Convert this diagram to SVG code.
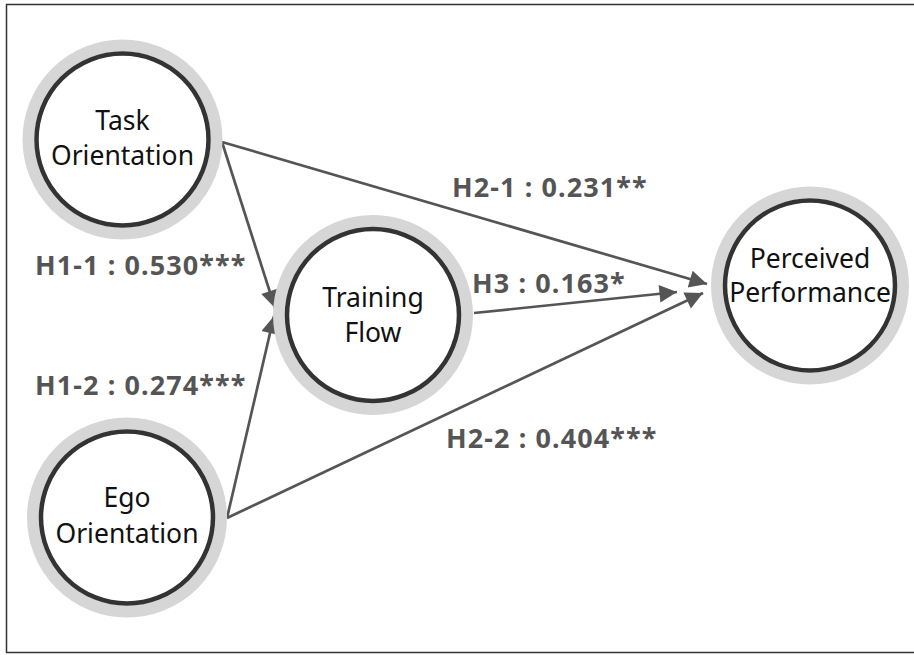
<svg xmlns="http://www.w3.org/2000/svg" width="914" height="655" viewBox="0 0 914 655">
<defs>
<style>
.ring{fill:none;stroke:#d6d6d6;stroke-width:12}
.core{fill:#fff;stroke:#333;stroke-width:4.5}
.nt{font-family:"Noto Sans","Open Sans",sans-serif;font-size:26.5px;fill:#111;text-anchor:middle}
.lb{font-family:"Noto Sans","Open Sans",sans-serif;font-size:27px;letter-spacing:1.1px;font-weight:bold;fill:#555}
.cn{stroke:#555;stroke-width:2.7;fill:none;marker-end:url(#ah)}
</style>
<marker id="ah" viewBox="0 0 10 10" refX="10" refY="5" markerWidth="8" markerHeight="6.5" markerUnits="strokeWidth" orient="auto">
<path d="M0,0 L10,5 L0,10 z" fill="#555"/>
</marker>
</defs>
<rect width="914" height="655" fill="#fff"/>
<path d="M914,4.5 H6.5 V652.5 H914" fill="none" stroke="#333" stroke-width="1.5"/>
<g id="connectors">
<line class="cn" x1="222" y1="142" x2="275" y2="308"/>
<line class="cn" x1="227" y1="518" x2="274" y2="316"/>
<line class="cn" x1="222" y1="142" x2="707" y2="284"/>
<line class="cn" x1="227" y1="518" x2="703" y2="293"/>
<line class="cn" x1="474" y1="313" x2="677" y2="292"/>
</g>
<g id="task">
<circle class="ring" cx="122.5" cy="139.5" r="94"/>
<circle class="core" cx="122.5" cy="139.5" r="86"/>
<text class="nt" x="122.5" y="130">Task</text>
<text class="nt" x="122.5" y="165">Orientation</text>
</g>
<g id="ego">
<circle class="ring" cx="127" cy="517.5" r="94"/>
<circle class="core" cx="127" cy="517.5" r="86"/>
<text class="nt" x="127" y="507">Ego</text>
<text class="nt" x="127" y="543">Orientation</text>
</g>
<g id="flow">
<circle class="ring" cx="373" cy="315" r="94"/>
<circle class="core" cx="373" cy="315" r="86"/>
<text class="nt" x="373" y="307">Training</text>
<text class="nt" x="373" y="342">Flow</text>
</g>
<g id="perf">
<circle class="ring" cx="810" cy="285.5" r="93"/>
<circle class="core" cx="810" cy="285.5" r="85"/>
<text class="nt" x="810" y="268">Perceived</text>
<text class="nt" x="810" y="302">Performance</text>
</g>
<g id="labels">
<text class="lb" x="35" y="275">H1-1 : 0.530***</text>
<text class="lb" x="35" y="395">H1-2 : 0.274***</text>
<text class="lb" x="452" y="197">H2-1 : 0.231**</text>
<text class="lb" x="472" y="293">H3 : 0.163*</text>
<text class="lb" x="446" y="448">H2-2 : 0.404***</text>
</g>
</svg>
